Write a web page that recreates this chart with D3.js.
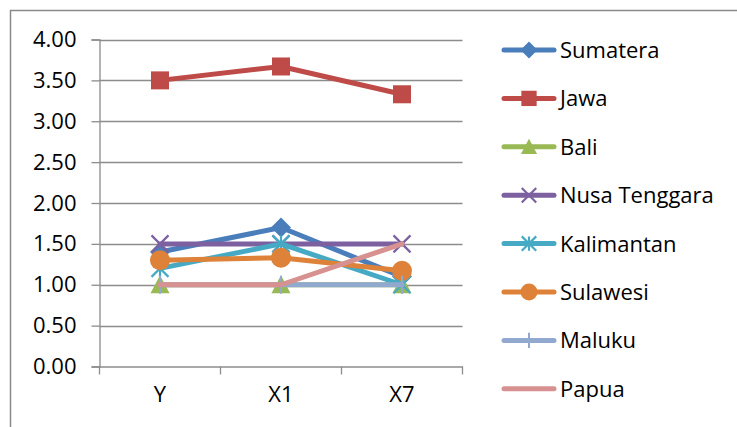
<!DOCTYPE html>
<html>
<head>
<meta charset="utf-8">
<script src="https://cdn.jsdelivr.net/npm/d3@7/dist/d3.min.js"></script>
<style>
  html, body { margin: 0; padding: 0; background: #fff; }
  svg { display: block; }
  text { font-family: "Open Sans", Lato, sans-serif; fill: #000; }
</style>
</head>
<body>
<svg id="chart" width="737" height="427"></svg>
<script>
// Categories on the x axis
const categories = ["Y", "X1", "X7"];

// Series names, values per category
const seriesNames = ["Sumatera", "Jawa", "Bali", "Nusa Tenggara", "Kalimantan", "Sulawesi", "Maluku", "Papua"];
const sumatera     = [1.40, 1.70, 1.10];
const jawa         = [3.50, 3.67, 3.33];
const bali         = [1.00, 1.00, 1.00];
const nusaTenggara = [1.50, 1.50, 1.50];
const kalimantan   = [1.20, 1.50, 1.00];
const sulawesi     = [1.30, 1.33, 1.17];
const maluku       = [1.00, 1.00, 1.00];
const papua        = [1.00, 1.00, 1.50];

// Y axis ticks
const yTicks = [0, 0.5, 1, 1.5, 2, 2.5, 3, 3.5, 4];

const seriesValues = [sumatera, jawa, bali, nusaTenggara, kalimantan, sulawesi, maluku, papua];
const colors = ["#4A7EBB", "#BE4B48", "#98B954", "#7D60A0", "#46AAC5", "#DD8238", "#92A9CF", "#D69190"];
const markers = ["diamond", "square", "triangle", "x", "star", "circle", "plus", "none"];

const FONT = "'Open Sans', Lato, sans-serif";
const FONT_SIZE = 22;

const svg = d3.select("#chart");

// outer chart border
svg.append("rect")
  .attr("x", 10.5).attr("y", 10.5)
  .attr("width", 760).attr("height", 460)
  .attr("fill", "#fff")
  .attr("stroke", "#8a8a8a").attr("stroke-width", 1.5);

const plot = { left: 99.5, right: 462.5, top: 39.5, bottom: 366.5 };

const x = d3.scaleBand().domain(categories).range([plot.left, plot.right]).padding(0);
const y = d3.scaleLinear().domain([0, 4]).range([plot.bottom, plot.top]);
const cx = c => x(c) + x.bandwidth() / 2;

// horizontal gridlines
svg.append("g")
  .selectAll("line")
  .data(yTicks.filter(t => t > 0))
  .join("line")
  .attr("x1", plot.left).attr("x2", plot.right)
  .attr("y1", d => Math.round(y(d)) + 0.5).attr("y2", d => Math.round(y(d)) + 0.5)
  .attr("stroke", "#8c8c8c").attr("stroke-width", 1.3);

// y axis
const yAxis = svg.append("g")
  .attr("transform", `translate(${plot.left},0)`)
  .call(d3.axisLeft(y).tickValues(yTicks).tickFormat(d3.format(".2f")).tickSize(8).tickPadding(15));
yAxis.select(".domain").attr("stroke", "#8c8c8c").attr("stroke-width", 1.3);
yAxis.selectAll(".tick line").attr("stroke", "#8c8c8c").attr("stroke-width", 1.3);
yAxis.selectAll(".tick text").attr("font-size", FONT_SIZE).attr("font-family", FONT).attr("fill", "#000");

// x axis
const xAxis = svg.append("g")
  .attr("transform", `translate(0,${plot.bottom})`)
  .call(d3.axisBottom(x).tickSize(0).tickPadding(20));
xAxis.select(".domain").attr("stroke", "#8c8c8c").attr("stroke-width", 1.3);
xAxis.selectAll(".tick text").attr("font-size", FONT_SIZE).attr("font-family", FONT).attr("fill", "#000");
// category boundary ticks
svg.append("g")
  .selectAll("line")
  .data(categories.map(c => x(c)).concat([x(categories[categories.length - 1]) + x.bandwidth()]))
  .join("line")
  .attr("x1", d => d).attr("x2", d => d)
  .attr("y1", plot.bottom).attr("y2", plot.bottom + 8)
  .attr("stroke", "#8c8c8c").attr("stroke-width", 1.3);

// marker drawing
function drawMarker(g, type, color, px, py, scale) {
  const s = scale || 1;
  if (type === "diamond") {
    const r = 10 * s;
    g.append("path").attr("d", `M${px},${py - r}L${px + r},${py}L${px},${py + r}L${px - r},${py}Z`).attr("fill", color);
  } else if (type === "square") {
    const r = 9 * s;
    g.append("rect").attr("x", px - r).attr("y", py - r).attr("width", 2 * r).attr("height", 2 * r).attr("fill", color);
  } else if (type === "triangle") {
    const r = 9.5 * s;
    g.append("path").attr("d", `M${px},${py - r}L${px + r},${py + r * 0.9}L${px - r},${py + r * 0.9}Z`).attr("fill", color);
  } else if (type === "x") {
    const r = 8.5 * s;
    g.append("path").attr("d", `M${px - r},${py - r}L${px + r},${py + r}M${px + r},${py - r}L${px - r},${py + r}`)
      .attr("stroke", color).attr("stroke-width", 2.2).attr("fill", "none");
  } else if (type === "star") {
    const r = 8.5 * s;
    g.append("path").attr("d", `M${px - r},${py - r}L${px + r},${py + r}M${px + r},${py - r}L${px - r},${py + r}M${px},${py - r}L${px},${py + r}`)
      .attr("stroke", color).attr("stroke-width", 2.2).attr("fill", "none");
  } else if (type === "circle") {
    g.append("circle").attr("cx", px).attr("cy", py).attr("r", 10 * s).attr("fill", color);
  } else if (type === "plus") {
    const r = 9 * s;
    g.append("path").attr("d", `M${px},${py - r}L${px},${py + r}`)
      .attr("stroke", color).attr("stroke-width", 2).attr("fill", "none");
  }
}

const line = d3.line().x(d => cx(d.c)).y(d => y(d.v));

// series lines and markers
seriesNames.forEach((name, i) => {
  const g = svg.append("g");
  const pts = categories.map((c, j) => ({ c, v: seriesValues[i][j] }));
  g.append("path").datum(pts)
    .attr("d", line)
    .attr("fill", "none")
    .attr("stroke", colors[i])
    .attr("stroke-width", 5)
    .attr("stroke-linejoin", "round")
    .attr("stroke-linecap", "round");
  pts.forEach(p => drawMarker(g, markers[i], colors[i], cx(p.c), y(p.v)));
});

// legend
const legend = svg.append("g");
seriesNames.forEach((name, i) => {
  const ly = 50 + i * 48.4;
  const g = legend.append("g");
  g.append("line").attr("x1", 504).attr("x2", 554).attr("y1", ly).attr("y2", ly)
    .attr("stroke", colors[i]).attr("stroke-width", 5).attr("stroke-linecap", "round");
  drawMarker(g, markers[i], colors[i], 529, ly, 0.85);
  g.append("text").attr("x", 560).attr("y", ly).attr("dy", "0.36em")
    .attr("font-size", FONT_SIZE).attr("font-family", FONT).text(name);
});
</script>
</body>
</html>
